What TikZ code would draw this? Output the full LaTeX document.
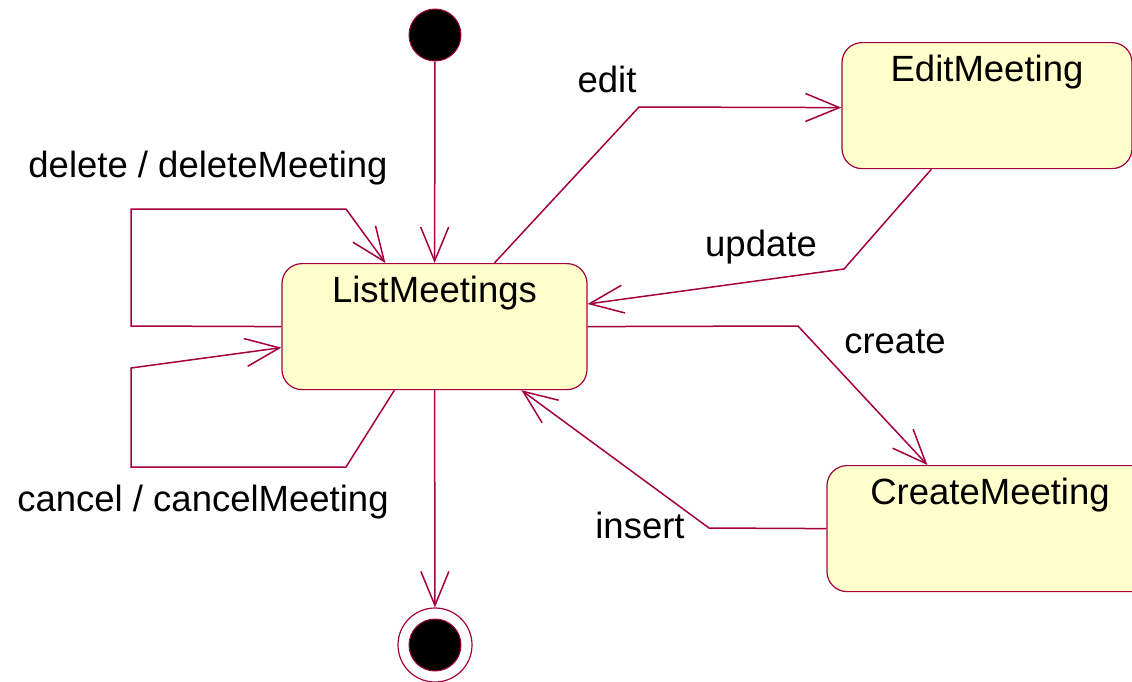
\documentclass[tikz,border=0pt]{standalone}
\usepackage{fontspec}
\setmainfont{Liberation Sans}
\usepackage{tikz}
\usetikzlibrary{arrows.meta,shapes,positioning,calc}
\usepackage{xcolor}
\definecolor{rosered}{RGB}{165,0,62}
\definecolor{roseyellow}{RGB}{255,255,204}
\tikzstyle{statebox} = [draw=rosered, fill=roseyellow, line width=1.2pt, rounded corners=20pt, inner sep=0pt, text height=39pt, text depth=87pt, anchor=north]
\tikzstyle{trans} = [line width=1.5pt, color=rosered, -{Straight Barb[length=34pt,width=28pt,line width=1.5pt]}]
\tikzstyle{dot} = [circle, fill=black, draw=rosered, line width=1pt, minimum size=52pt, inner sep=0pt]

\begin{document}
\begin{tikzpicture}[x=1pt, y=-1pt, font=\fontsize{36.5}{43}\selectfont]
\useasboundingbox (0,0) rectangle (1132,681);

% States
\node[dot] (start) at (435,35) {};
\node[statebox, minimum width=305pt] (list) at (434.5,263) {ListMeetings};
\node[statebox, minimum width=290pt] (edit) at (987,42) {EditMeeting};
\node[statebox, minimum width=326pt] (create) at (990,465) {CreateMeeting};
\node[circle, draw=rosered, fill=white, line width=1.2pt, minimum size=74pt, inner sep=0pt] (stop) at (435,645) {};
\node[dot] (stopdot) at (stop) {};

% Transitions
\draw[trans] (start) -- (list);
\draw[trans] (list) -- (stop);
\draw[trans] (list.west) -- (131,326) -- (131,209) -- (346,209) -- ($(list.north west)+(104,0)$);
\draw[trans] ($(list.south west)+(113,0)$) -- (346,467) -- (131,467) -- (131,368) -- ($(list.west)+(0,21)$);
\draw[trans] ($(list.north west)+(213,0)$) -- (639,107) -- ($(edit.west)+(0,2)$);
\draw[trans] ($(edit.south west)+(90,0)$) -- (844,269) -- ($(list.north east)+(0,41)$);
\draw[trans] (list.east) -- (798,326) -- ($(create.north west)+(101,0)$);
\draw[trans] (create.west) -- (709,528) -- ($(list.south west)+(240,0)$);

% Labels
\node[anchor=base] (lbldelete) at (208,177) {delete / deleteMeeting};
\node[anchor=base] (lblcancel) at (203,511) {cancel / cancelMeeting};
\node[anchor=base] (lbledit) at (607,92) {edit};
\node[anchor=base] (lblupdate) at (761,256) {update};
\node[anchor=base] (lblcreate) at (895,353) {create};
\node[anchor=base] (lblinsert) at (640,538) {insert};
\end{tikzpicture}
\end{document}
